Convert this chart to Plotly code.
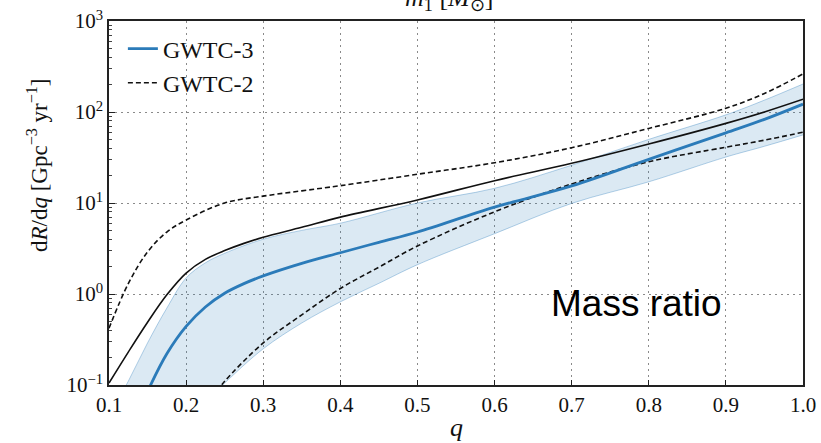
import plotly.graph_objects as go

# Mass-ratio distribution dR/dq (log scale)
# GWTC-3 median and 90% band
gwtc3_q = [0.15, 0.175, 0.2, 0.225, 0.25, 0.275, 0.3, 0.35, 0.4, 0.45, 0.5, 0.6, 0.7, 0.8, 0.9, 0.95, 1.0]
gwtc3_med = [0.085, 0.22, 0.44, 0.72, 1.02, 1.30, 1.58, 2.17, 2.84, 3.7, 4.8, 9.0, 15.4, 30.2, 59, 83, 122]

band_hi_q = [0.1, 0.125, 0.15, 0.175, 0.2, 0.225, 0.25, 0.3, 0.35, 0.4, 0.5, 0.6, 0.7, 0.8, 0.9, 0.95, 1.0]
band_hi = [0.045, 0.11, 0.29, 0.7, 1.5, 2.2, 2.8, 4.0, 5.0, 6.0, 10, 14.5, 26, 50, 93, 135, 203]

band_lo_q = [0.225, 0.25, 0.3, 0.35, 0.4, 0.45, 0.5, 0.6, 0.7, 0.8, 0.9, 0.95, 1.0]
band_lo = [0.065, 0.105, 0.25, 0.48, 0.82, 1.31, 2.1, 4.6, 9.9, 17.1, 32, 42, 56]

# Solid black envelope
env_q = [0.1, 0.125, 0.15, 0.175, 0.2, 0.225, 0.25, 0.275, 0.3, 0.35, 0.4, 0.5, 0.6, 0.7, 0.8, 0.9, 0.95, 1.0]
env_v = [0.105, 0.23, 0.49, 0.98, 1.70, 2.4, 3.0, 3.6, 4.2, 5.4, 7.0, 10.8, 17.6, 27.3, 44.5, 75, 100, 138]

# GWTC-2 90% bounds (dashed)
g2_hi_q = [0.1, 0.125, 0.15, 0.175, 0.2, 0.25, 0.3, 0.35, 0.4, 0.5, 0.6, 0.7, 0.8, 0.9, 0.95, 1.0]
g2_hi = [0.42, 1.3, 2.9, 4.8, 6.5, 10, 11.9, 13.6, 15.5, 20.7, 27.7, 40.5, 66, 110, 160, 262]

g2_lo_q = [0.24, 0.25, 0.3, 0.35, 0.4, 0.45, 0.5, 0.6, 0.7, 0.8, 0.9, 0.95, 1.0]
g2_lo = [0.085, 0.11, 0.29, 0.59, 1.15, 1.97, 3.37, 8.0, 16.2, 28.4, 41, 49, 60]

x_ticks = [0.1, 0.2, 0.3, 0.4, 0.5, 0.6, 0.7, 0.8, 0.9, 1.0]
y_ticks = [0.1, 1, 10, 100, 1000]
y_ticktext = ["10<sup>\u22121</sup>", "10<sup>0</sup>", "10<sup>1</sup>", "10<sup>2</sup>", "10<sup>3</sup>"]
y_minor = [m * 10.0 ** e for e in range(-1, 3) for m in range(2, 10)]

BLUE = "#2b7bb9"
SERIF = "Liberation Serif"
SMOOTH = 1.0

fig = go.Figure()

fig.add_trace(go.Scatter(x=band_lo_q, y=band_lo, mode="lines",
                         line=dict(color="rgba(43,123,185,0.35)", width=1, shape="spline", smoothing=SMOOTH),
                         showlegend=False, hoverinfo="skip"))
fig.add_trace(go.Scatter(x=band_hi_q, y=band_hi, mode="lines", fill="tonexty",
                         fillcolor="rgba(43,123,185,0.17)",
                         line=dict(color="rgba(43,123,185,0.35)", width=1, shape="spline", smoothing=SMOOTH),
                         showlegend=False, hoverinfo="skip"))

fig.add_trace(go.Scatter(x=env_q, y=env_v, mode="lines",
                         line=dict(color="#111111", width=1.6, shape="spline", smoothing=SMOOTH),
                         showlegend=False))

fig.add_trace(go.Scatter(x=g2_hi_q, y=g2_hi, mode="lines", name="GWTC-2",
                         legendgroup="g2", legendrank=2,
                         line=dict(color="#111111", width=1.6, dash="5px,3px", shape="spline", smoothing=SMOOTH)))
fig.add_trace(go.Scatter(x=g2_lo_q, y=g2_lo, mode="lines", name="GWTC-2",
                         legendgroup="g2", showlegend=False,
                         line=dict(color="#111111", width=1.6, dash="5px,3px", shape="spline", smoothing=SMOOTH)))

fig.add_trace(go.Scatter(x=gwtc3_q, y=gwtc3_med, mode="lines", name="GWTC-3",
                         legendgroup="g3", legendrank=1,
                         line=dict(color=BLUE, width=2.8, shape="spline", smoothing=SMOOTH)))

fig.update_xaxes(range=[0.1, 1.0], tickvals=x_ticks, tickformat=".1f", automargin=False,
                 ticks="inside", ticklen=5, tickcolor="#222",
                 showline=True, linecolor="#222", linewidth=1.5, mirror=True,
                 showgrid=True, gridcolor="#8a8a8a", gridwidth=1, griddash="2px,4px",
                 tickfont=dict(family=SERIF, size=21, color="#111"),
                 zeroline=False)
fig.update_yaxes(type="log", range=[-1, 3], tickvals=y_ticks, ticktext=y_ticktext, automargin=False,
                 ticks="inside", ticklen=6, tickcolor="#222",
                 minor=dict(ticks="inside", ticklen=3, tickcolor="#444", tickvals=y_minor, showgrid=False),
                 showline=True, linecolor="#222", linewidth=1.5, mirror=True,
                 showgrid=True, gridcolor="#8a8a8a", gridwidth=1, griddash="2px,4px",
                 tickfont=dict(family=SERIF, size=21, color="#111"),
                 zeroline=False)

fig.update_layout(
    width=821, height=443, autosize=False,
    margin=dict(l=109, r=18, t=21, b=58),
    paper_bgcolor="white", plot_bgcolor="white",
    legend=dict(x=0.02, y=0.985, xanchor="left", yanchor="top",
                bgcolor="rgba(0,0,0,0)", borderwidth=0, tracegroupgap=0,
                font=dict(family=SERIF, size=24, color="#111")),
    annotations=[
        dict(text="Mass ratio", x=0.76, y=0.225, xref="paper", yref="paper",
             xanchor="center", yanchor="middle", showarrow=False,
             font=dict(family="Liberation Sans", size=37, color="black")),
        dict(text="<i>q</i>", x=0.5, y=-0.118, xref="paper", yref="paper",
             xanchor="center", yanchor="middle", showarrow=False,
             font=dict(family=SERIF, size=26, color="#111")),
        dict(text="d<i>R</i>/d<i>q</i> [Gpc<sup>\u22123</sup> yr<sup>\u22121</sup>]",
             x=-0.102, y=0.605, xref="paper", yref="paper", textangle=-90,
             xanchor="center", yanchor="middle", showarrow=False,
             font=dict(family=SERIF, size=23, color="#111")),
        dict(text="<i>m</i><sub>1</sub> [<i>M</i><sub>\u2299</sub>]",
             x=0.49, y=1.01, xref="paper", yref="paper",
             xanchor="center", yanchor="bottom", showarrow=False,
             font=dict(family=SERIF, size=26, color="#111")),
    ],
)

fig.write_html("out.html")
